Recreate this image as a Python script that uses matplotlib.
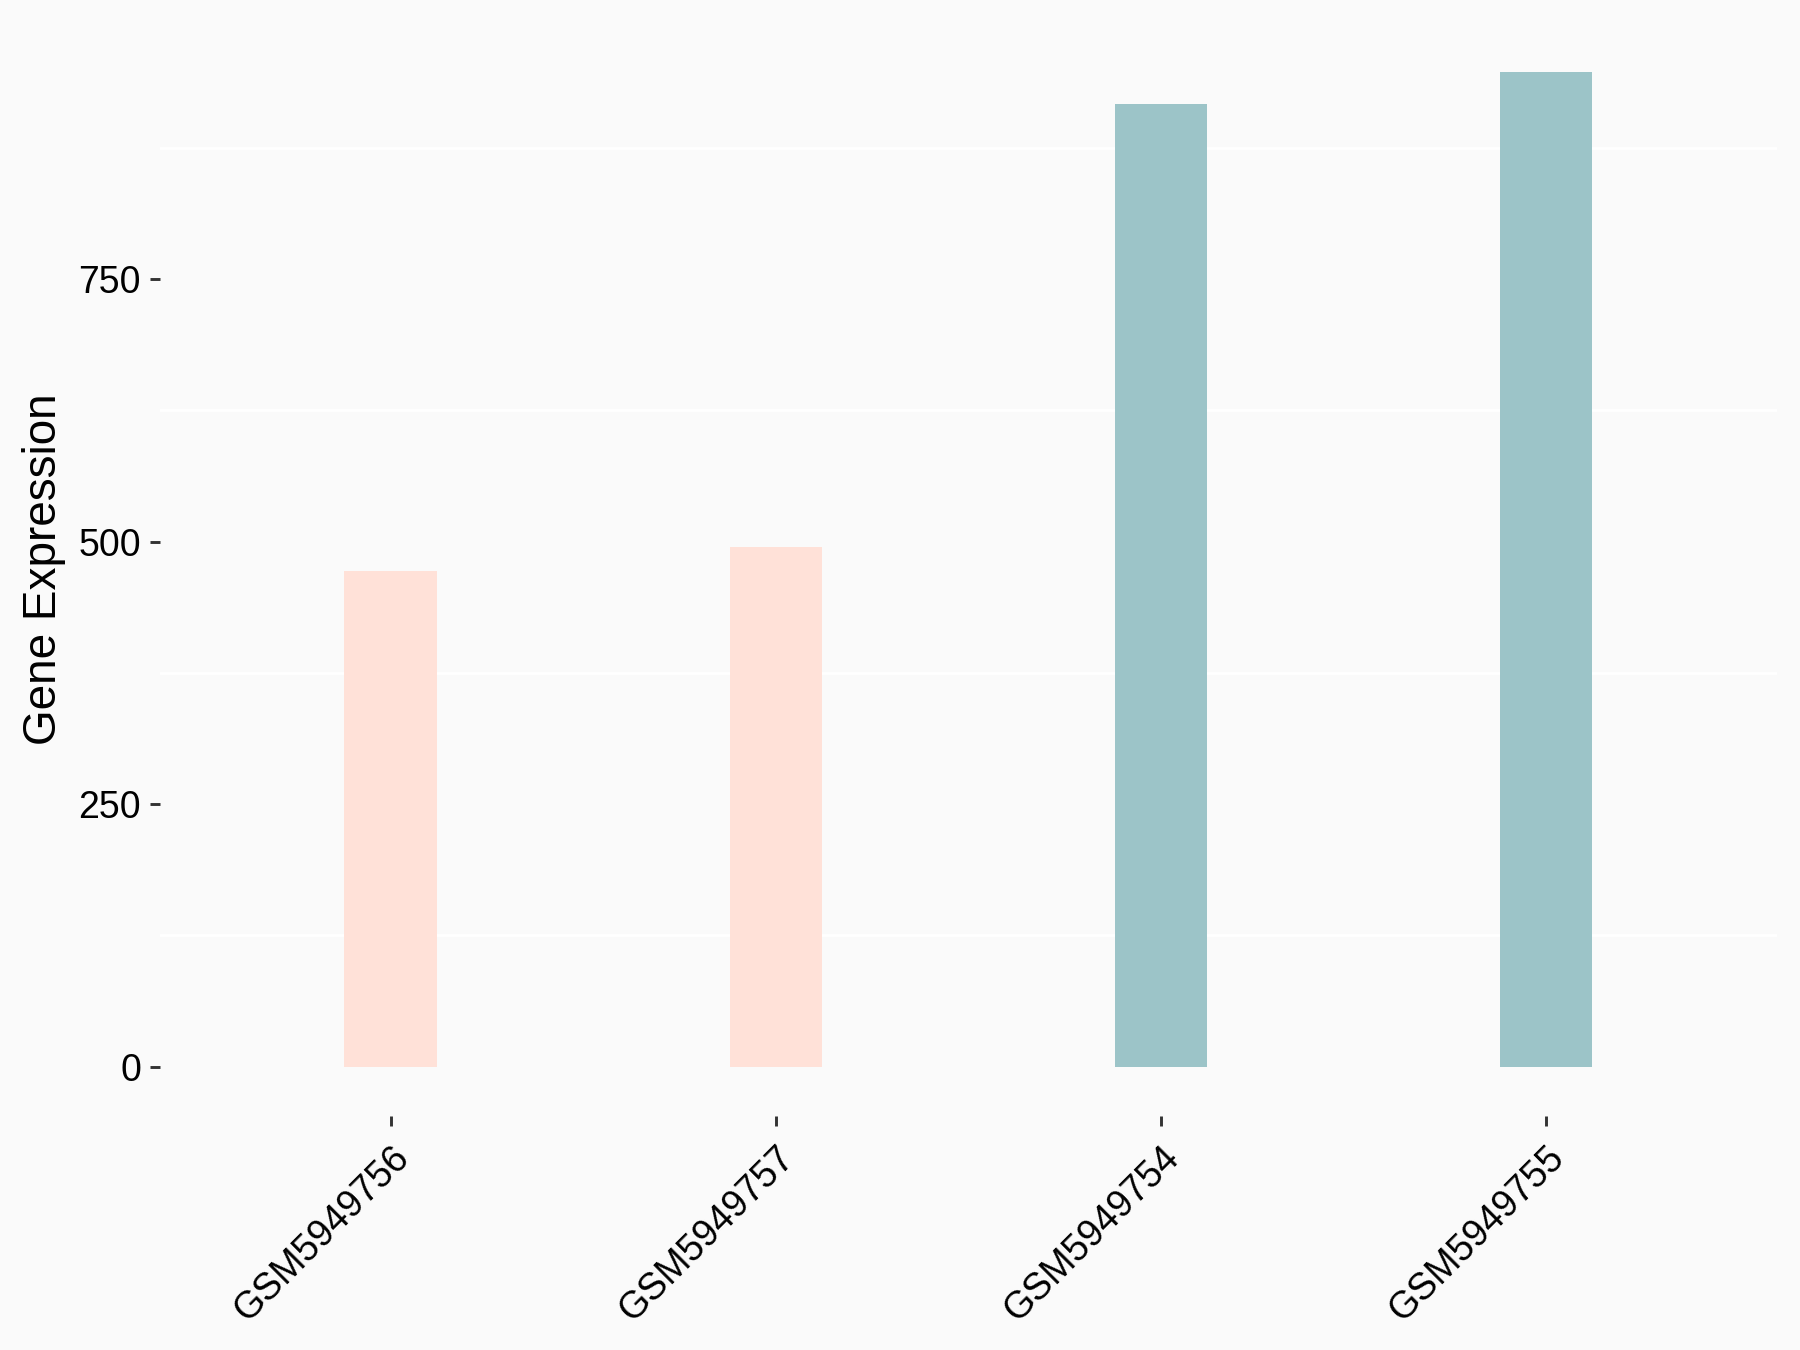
import matplotlib
matplotlib.use("Agg")
import matplotlib.pyplot as plt
import numpy as np

samples = ["GSM5949756", "GSM5949757", "GSM5949754", "GSM5949755"]
values = [471.5, 494.5, 916.5, 947.0]
groups = ["A", "A", "B", "B"]
group_colors = {"A": "#FFE1D8", "B": "#9CC4C8"}
y_ticks = [0, 250, 500, 750]
y_minor = [125, 375, 625, 875]

plt.rcParams["font.family"] = ["Liberation Sans", "DejaVu Sans"]
bg = "#FAFAFA"

fig = plt.figure(figsize=(12, 9), dpi=150, facecolor=bg)
ax = fig.add_axes([0.0887, 0.173, 0.8985, 0.8105])
ax.set_facecolor(bg)

x = np.arange(len(samples))
ax.bar(x, values, width=0.24, color=[group_colors[g] for g in groups], zorder=2)

ymax = max(values)
ax.set_ylim(-0.05 * ymax, 1.05 * ymax)
ax.set_xlim(-0.6, len(samples) - 0.4)

for yv in y_minor:
    ax.axhline(yv, color="white", lw=1.4, zorder=1)

ax.set_yticks(y_ticks)
ax.set_yticklabels([str(v) for v in y_ticks], fontsize=18, color="black")
ax.set_xticks(x)
ax.set_xticklabels(samples, fontsize=18, rotation=45, ha="right",
                   va="top", rotation_mode="anchor", color="black")
ax.tick_params(axis="both", length=5, width=1.4, color="#333333")
ax.tick_params(axis="y", pad=4)
ax.tick_params(axis="x", pad=6)

for s in ax.spines.values():
    s.set_visible(False)

ax.set_ylabel("Gene Expression", fontsize=22, color="black", labelpad=6)

fig.savefig("out.png", dpi=150, facecolor=bg)
